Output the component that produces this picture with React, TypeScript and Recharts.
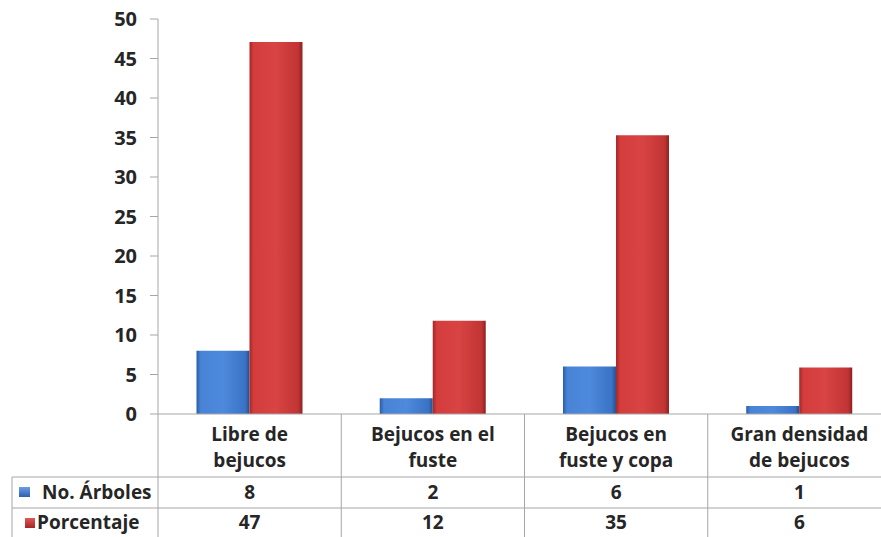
import React from 'react';
import { BarChart, Bar, XAxis, YAxis } from 'recharts';

// data
const categories = ['Libre de bejucos', 'Bejucos en el fuste', 'Bejucos en fuste y copa', 'Gran densidad de bejucos'];
const categoryLines = [
  ['Libre de', 'bejucos'],
  ['Bejucos en el', 'fuste'],
  ['Bejucos en', 'fuste y copa'],
  ['Gran densidad', 'de bejucos'],
];
const arboles = [8, 2, 6, 1];
const porcentaje = [47.1, 11.8, 35.3, 5.9];
const porcentajeLabels = ['47', '12', '35', '6'];
const yTicks = [0, 5, 10, 15, 20, 25, 30, 35, 40, 45, 50];

const data = categories.map((name, i) => ({
  name,
  arboles: arboles[i],
  porcentaje: porcentaje[i],
}));

const W = 891;
const H = 537;
const PLOT_LEFT = 158;
const PLOT_TOP = 19;
const PLOT_BOTTOM = 414;
const BAND = (W - PLOT_LEFT) / categories.length;
const ROW1 = 477;
const ROW2 = 508;
const GRID = '#a6a6a6';
const FONT = '"Open Sans", Lato, sans-serif';

function TableTick(props: any) {
  const { x, index } = props;
  const lines = categoryLines[index];
  const left = x - BAND / 2;
  return (
    <g fontFamily={FONT} fontWeight={700} fontSize={19} fill="#262626">
      <line x1={left} y1={PLOT_BOTTOM} x2={left} y2={H} stroke={GRID} />
      {index === categories.length - 1 && (
        <line x1={left + BAND} y1={PLOT_BOTTOM} x2={left + BAND} y2={H} stroke={GRID} />
      )}
      <text x={x} y={441} textAnchor="middle">{lines[0]}</text>
      <text x={x} y={467} textAnchor="middle">{lines[1]}</text>
      <text x={x} y={499} textAnchor="middle">{arboles[index]}</text>
      <text x={x} y={529} textAnchor="middle">{porcentajeLabels[index]}</text>
      {index === 0 && (
        <g>
          <line x1={12} y1={ROW1} x2={W} y2={ROW1} stroke={GRID} />
          <line x1={12} y1={ROW2} x2={W} y2={ROW2} stroke={GRID} />
          <line x1={12} y1={ROW1} x2={12} y2={H} stroke={GRID} />
          <rect x={19} y={487} width={11} height={10} fill="url(#gBlueSq)" />
          <text x={42} y={499}>No. Árboles</text>
          <rect x={25} y={518} width={10} height={10} fill="url(#gRedSq)" />
          <text x={37} y={529}>Porcentaje</text>
        </g>
      )}
    </g>
  );
}

export default function App() {
  return (
    <div style={{ position: 'absolute', left: 0, top: 0, width: 881, height: H, overflow: 'hidden', background: '#fff' }}>
      <BarChart
        width={W}
        height={H}
        data={data}
        margin={{ top: PLOT_TOP, right: 0, left: 0, bottom: 0 }}
        barCategoryGap="21%"
        barGap={0}
      >
        <defs>
          <linearGradient id="gBlue" x1="0" y1="0" x2="1" y2="0">
            <stop offset="0" stopColor="#2a5ca8" />
            <stop offset="0.08" stopColor="#4883d6" />
            <stop offset="0.5" stopColor="#4d89dc" />
            <stop offset="0.92" stopColor="#3a73c6" />
            <stop offset="1" stopColor="#23508f" />
          </linearGradient>
          <linearGradient id="gRed" x1="0" y1="0" x2="1" y2="0">
            <stop offset="0" stopColor="#a32828" />
            <stop offset="0.08" stopColor="#d53d3d" />
            <stop offset="0.5" stopColor="#d84343" />
            <stop offset="0.92" stopColor="#c23434" />
            <stop offset="1" stopColor="#8c2020" />
          </linearGradient>
          <linearGradient id="gBlueSq" x1="0" y1="0" x2="0" y2="1">
            <stop offset="0" stopColor="#6b9ee6" />
            <stop offset="1" stopColor="#2d5fae" />
          </linearGradient>
          <linearGradient id="gRedSq" x1="0" y1="0" x2="0" y2="1">
            <stop offset="0" stopColor="#e05858" />
            <stop offset="1" stopColor="#a52626" />
          </linearGradient>
        </defs>
        <XAxis
          dataKey="name"
          height={H - PLOT_BOTTOM}
          axisLine={{ stroke: GRID }}
          tickLine={false}
          tick={<TableTick />}
          interval={0}
        />
        <YAxis
          width={PLOT_LEFT}
          domain={[0, 50]}
          ticks={yTicks}
          axisLine={{ stroke: GRID }}
          tickLine={{ stroke: GRID }}
          tickSize={8}
          tickMargin={13}
          tick={{ fill: '#262626', fontSize: 20, fontWeight: 700, fontFamily: FONT }}
        />
        <Bar dataKey="arboles" name="No. Árboles" fill="url(#gBlue)" isAnimationActive={false} />
        <Bar dataKey="porcentaje" name="Porcentaje" fill="url(#gRed)" isAnimationActive={false} />
      </BarChart>
    </div>
  );
}
